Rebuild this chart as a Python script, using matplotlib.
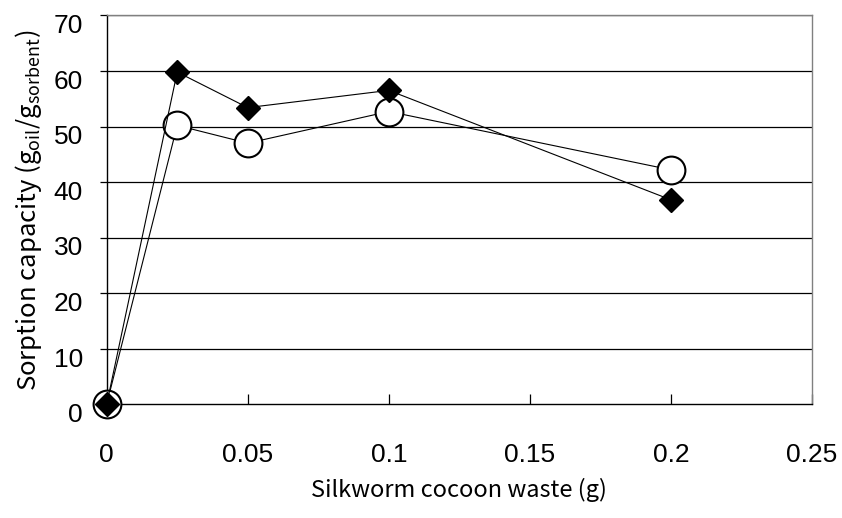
import matplotlib
matplotlib.use('Agg')
import matplotlib.pyplot as plt
from matplotlib.transforms import ScaledTranslation

# Data
x_waste = [0, 0.025, 0.05, 0.1, 0.2]
sorption_diamond = [0, 59.8, 53.4, 56.5, 36.8]
sorption_circle = [0, 50.2, 47.0, 52.7, 42.2]
x_ticks = [0, 0.05, 0.1, 0.15, 0.2, 0.25]
x_tick_labels = ['0', '0.05', '0.1', '0.15', '0.2', '0.25']
y_ticks = [0, 10, 20, 30, 40, 50, 60, 70]

jp_font = ['Noto Sans CJK JP', 'DejaVu Sans']
plt.rcParams['mathtext.fontset'] = 'custom'
plt.rcParams['mathtext.rm'] = 'Noto Sans CJK JP'

fig, ax = plt.subplots(figsize=(8.42, 5.18), dpi=100)
fig.subplots_adjust(left=0.1267, right=0.9644, top=0.9703, bottom=0.2195)

# Grid lines
for y in y_ticks[1:]:
    ax.axhline(y, color='black', linewidth=0.9, zorder=1)

# Series
ax.plot(x_waste, sorption_circle, color='black', linewidth=0.8, marker='o',
        markersize=20, markerfacecolor='white', markeredgecolor='black',
        markeredgewidth=1.5, zorder=3, clip_on=False)
ax.plot(x_waste, sorption_diamond, color='black', linewidth=0.8, marker='D',
        markersize=12.5, markerfacecolor='black', markeredgecolor='black',
        zorder=4, clip_on=False)

ax.set_xlim(0, 0.25)
ax.set_ylim(0, 70)
ax.set_xticks(x_ticks)
ax.set_xticklabels(x_tick_labels)
ax.set_yticks(y_ticks)

for label in ax.get_xticklabels() + ax.get_yticklabels():
    label.set_fontfamily('Liberation Sans')
    label.set_fontsize(19)

ax.tick_params(axis='x', direction='in', length=7, width=0.9, pad=28)
ax.tick_params(axis='y', direction='out', length=5, width=0.9, pad=12)

# Excel-style: y tick labels sit a little below their gridline
offset = ScaledTranslation(0, -6 / 72, fig.dpi_scale_trans)
for label in ax.get_yticklabels():
    label.set_transform(label.get_transform() + offset)

ax.spines['top'].set_color('#808080')
ax.spines['right'].set_color('#808080')
ax.spines['left'].set_color('black')
ax.spines['bottom'].set_color('black')
for s in ax.spines.values():
    s.set_linewidth(1.0)

ax.set_xlabel('Silkworm cocoon waste (g)', fontsize=17, family=jp_font, labelpad=8)
ax.set_ylabel(r'Sorption capacity ($\mathrm{g_{oil}}$/$\mathrm{g_{sorbent}}$)',
              fontsize=18.5, family=jp_font, labelpad=7)

plt.savefig('out.png', dpi=100, facecolor='white')
